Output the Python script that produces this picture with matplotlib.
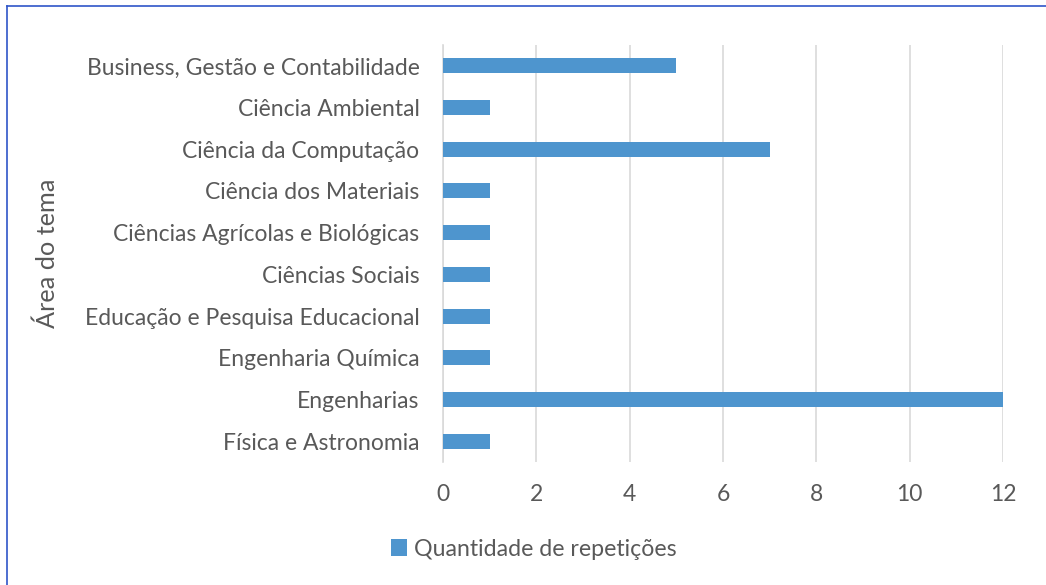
import matplotlib
matplotlib.use("Agg")
import matplotlib.pyplot as plt
from matplotlib.lines import Line2D

categories = ["Business, Gestão e Contabilidade", "Ciência Ambiental", "Ciência da Computação",
              "Ciência dos Materiais", "Ciências Agrícolas e Biológicas", "Ciências Sociais",
              "Educação e Pesquisa Educacional", "Engenharia Química", "Engenharias",
              "Física e Astronomia"]
values = [5, 1, 7, 1, 1, 1, 1, 1, 12, 1]
xticks = [0, 2, 4, 6, 8, 10, 12]
series_name = "Quantidade de repetições"
ylabel = "Área do tema"

plt.rcParams['font.family'] = ['Lato', 'DejaVu Sans']
gray = "#595959"
bar_color = "#4e95ce"

fig = plt.figure(figsize=(10.46, 5.85), dpi=100)
ax = fig.add_axes([443/1046, 1-462/585, (1003-443)/1046, (462-45)/585])

ypos = list(range(len(categories)))
ax.barh(ypos, values, height=0.36, color=bar_color, label=series_name, zorder=3)
ax.set_ylim(len(categories)-0.5, -0.5)
ax.set_yticks(ypos)
ax.set_yticklabels(categories, fontsize=16.5, color=gray)
ax.set_xlim(0, 12)
ax.set_xticks(xticks)
ax.set_xticklabels([str(t) for t in xticks], fontsize=16.5, color=gray)
ax.tick_params(axis='both', length=0)
ax.tick_params(axis='x', pad=16)
ax.tick_params(axis='y', pad=17)
ax.grid(axis='x', color="#d9d9d9", linewidth=1.2, zorder=0)
for s in ['top', 'right', 'bottom']:
    ax.spines[s].set_visible(False)
ax.spines['left'].set_color("#d9d9d9")
ax.spines['left'].set_linewidth(1.2)

fig.text(47/1046, 1-253/585, ylabel, rotation=90, fontsize=18.2, color=gray,
         ha='center', va='center')

leg = fig.legend(loc='center', bbox_to_anchor=(534/1046, 1-549/585), frameon=False,
                 fontsize=16.7, handlelength=0.7, handleheight=0.7, handletextpad=0.3)
for t in leg.get_texts():
    t.set_color(gray)

border = "#2f55c8"
fig.add_artist(Line2D([7/1046, 7/1046], [0, 1-6/585], transform=fig.transFigure,
                      color=border, linewidth=1.2))
fig.add_artist(Line2D([7/1046, 1], [1-6/585, 1-6/585], transform=fig.transFigure,
                      color=border, linewidth=1.2))

fig.savefig("out.png", dpi=100)
